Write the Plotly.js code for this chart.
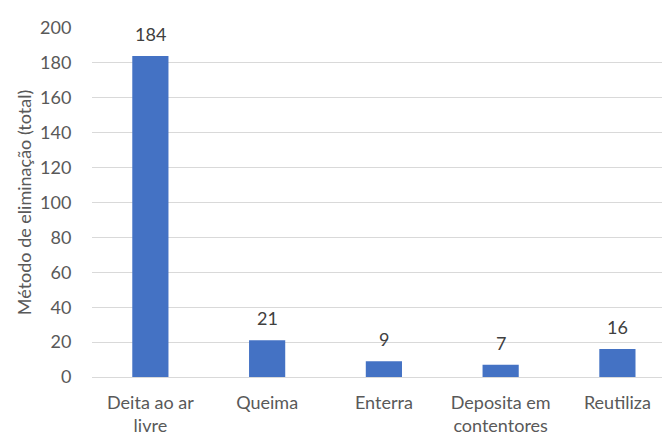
<!DOCTYPE html>
<html><head><meta charset="utf-8">
<script src="https://cdn.plot.ly/plotly-3.0.1.min.js"></script>
<style>html,body{margin:0;padding:0;background:#fff}#c{width:662px;height:436px}</style>
</head><body><div id="c"></div>
<script>
const categories = ["Deita ao ar<br>livre", "Queima", "Enterra", "Deposita em<br>contentores", "Reutiliza"];
const values = [184, 21, 9, 7, 16];
const yTicks = [0, 20, 40, 60, 80, 100, 120, 140, 160, 180, 200];

const font = "Lato, 'Open Sans', sans-serif";
Plotly.newPlot("c", [{
  type: "bar",
  x: categories,
  y: values,
  marker: {color: "#4472C4"},
  hoverinfo: "none"
}], {
  width: 662, height: 436,
  margin: {l: 92, r: 0, t: 28, b: 59},
  paper_bgcolor: "#fff", plot_bgcolor: "#fff",
  bargap: 0.69,
  showlegend: false,
  annotations: categories.map((c, i) => ({
    x: c, y: values[i], text: String(values[i]),
    showarrow: false, yanchor: "bottom", yshift: 9,
    font: {family: font, size: 18, color: "#404040"}
  })),
  xaxis: {
    range: [-0.5, 4.382],
    showgrid: false, zeroline: false, showline: false,
    ticks: "outside", ticklen: 9, tickcolor: "rgba(0,0,0,0)",
    tickfont: {family: font, size: 18, color: "#595959"}
  },
  yaxis: {
    range: [0, 200], tickvals: yTicks, ticktext: yTicks.map(String),
    showgrid: true, gridcolor: "#d9d9d9", gridwidth: 1,
    zeroline: true, zerolinecolor: "#d9d9d9", zerolinewidth: 1,
    showline: false, ticks: "outside", ticklen: 16, tickcolor: "rgba(0,0,0,0)",
    tickfont: {family: font, size: 18, color: "#595959"},
    title: {text: "Método de eliminação (total)", font: {family: font, size: 18, color: "#595959"}, standoff: 3}
  }
}, {displayModeBar: false, staticPlot: true});
</script></body></html>
